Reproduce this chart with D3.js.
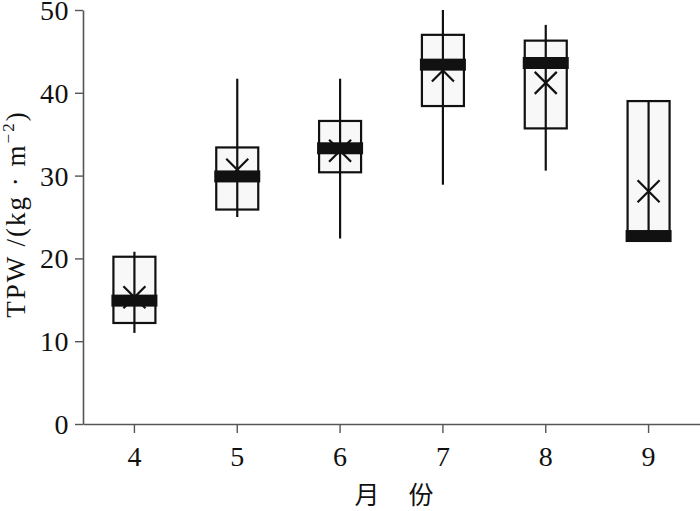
<!DOCTYPE html>
<html><head><meta charset="utf-8">
<script src="https://cdn.jsdelivr.net/npm/d3@7"></script>
<style>body{margin:0;background:#fff}</style>
</head><body>
<svg id="c" width="700" height="511"></svg>
<script>
const months = ["4","5","6","7","8","9"];
const whiskerLow  = [11.0, 25.0, 22.4, 28.9, 30.6, 22.7];
const boxLow      = [12.2, 25.9, 30.4, 38.4, 35.7, 22.7];
const medians     = [14.9, 29.9, 33.3, 43.4, 43.6, 22.7];
const boxHigh     = [20.2, 33.4, 36.6, 47.0, 46.3, 39.0];
const whiskerHigh = [20.8, 41.7, 41.7, 50.0, 48.2, 39.0];
const means       = [15.3, 30.7, 33.0, 42.7, 41.2, 28.1];
const yTicks = [0, 10, 20, 30, 40, 50];
const xLabel = ["月", "份"];
const yLabel = "TPW /(kg · m";

const svg = d3.select("#c");
const font = "'Liberation Serif','Times New Roman',serif";
const x = d3.scaleBand().domain(months).range([83, 700]);
const y = d3.scaleLinear().domain([0, 50]).range([424, 10]);
const bw = 42;

const data = months.map((m, i) => ({m, wl: whiskerLow[i], q1: boxLow[i], med: medians[i], q3: boxHigh[i], wh: whiskerHigh[i], mean: means[i]}));

// axes
const gx = svg.append("g").attr("transform", "translate(0,424)")
  .call(d3.axisBottom(x).tickSize(9).tickPadding(13).tickSizeOuter(0));
const gy = svg.append("g").attr("transform", "translate(83,0)")
  .call(d3.axisLeft(y).tickValues(yTicks).tickSize(8).tickPadding(6).tickSizeOuter(0));
[gx, gy].forEach(g => {
  g.select(".domain").attr("stroke", "#555").attr("stroke-width", 1.6);
  g.selectAll(".tick line").attr("stroke", "#555").attr("stroke-width", 1.4);
  g.selectAll(".tick text").attr("fill", "#111").style("font-family", font).style("font-size", "28px");
});
gx.selectAll(".tick text").attr("dy", "0.71em");
gy.selectAll(".tick text").attr("dy", "0.34em").attr("letter-spacing", "0.5px");

const g = svg.append("g");
const c = d => x(d.m) + x.bandwidth() / 2;

// boxes
g.selectAll("rect.box").data(data).join("rect").attr("class", "box")
  .attr("x", d => c(d) - bw / 2).attr("width", bw)
  .attr("y", d => y(d.q3)).attr("height", d => y(d.q1) - y(d.q3))
  .attr("fill", "#f8f8f8").attr("stroke", "#111").attr("stroke-width", 2.2);
// whiskers
g.selectAll("line.wh").data(data).join("line").attr("class", "wh")
  .attr("x1", c).attr("x2", c)
  .attr("y1", d => y(d.wh)).attr("y2", d => y(d.wl))
  .attr("stroke", "#111").attr("stroke-width", 2.2);
// mean X
const s = 11;
data.forEach(d => {
  const cx = c(d), cy = y(d.mean);
  g.append("path").attr("d", `M${cx - s},${cy - s}L${cx + s},${cy + s}M${cx - s},${cy + s}L${cx + s},${cy - s}`)
    .attr("stroke", "#111").attr("stroke-width", 2.2).attr("fill", "none");
});
// median bars
g.selectAll("rect.med").data(data).join("rect").attr("class", "med")
  .attr("x", d => c(d) - bw / 2 - 2).attr("width", bw + 4)
  .attr("y", d => y(d.med) - 6).attr("height", 12)
  .attr("fill", "#111");

// y label
const yl = svg.append("text").attr("transform", "translate(25,214) rotate(-90)")
  .attr("text-anchor", "middle").style("font-family", font).style("font-size", "27px")
  .attr("letter-spacing", "2px").attr("fill", "#111");
yl.append("tspan").text(yLabel);
yl.append("tspan").attr("dy", -11).style("font-size", "17px").text("−2");
yl.append("tspan").attr("dy", 11).text(")");

// x label
xLabel.forEach((t, i) => {
  svg.append("text").attr("x", i === 0 ? 367 : 421).attr("y", 504).attr("text-anchor", "middle")
    .style("font-family", "'Noto Sans CJK SC',sans-serif").style("font-size", "25px").attr("fill", "#111").text(t);
});
</script>
</body></html>
